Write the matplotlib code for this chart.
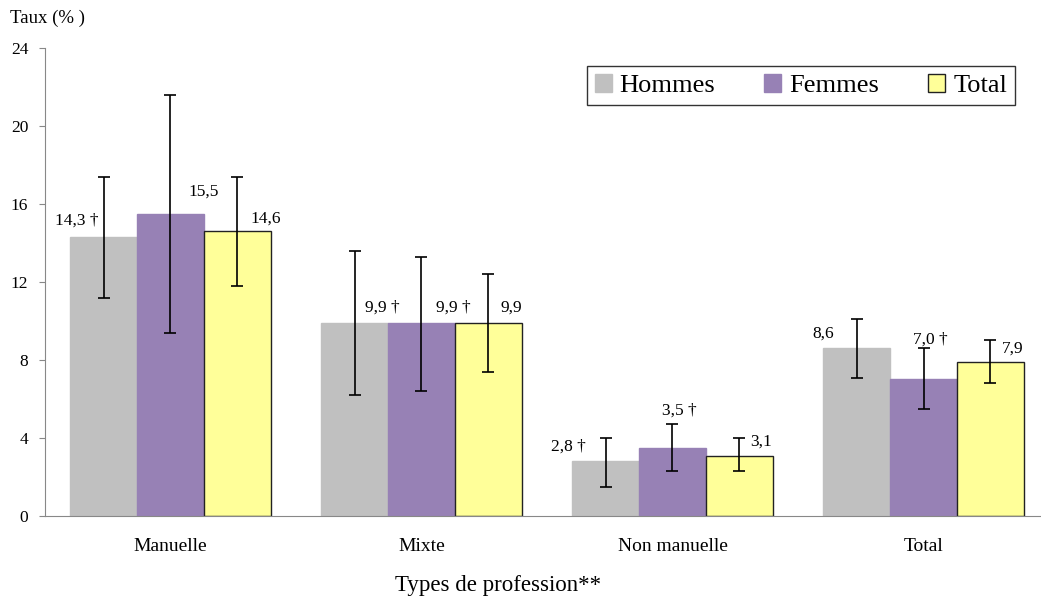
import numpy as np
import matplotlib.pyplot as plt

plt.rcParams['font.family'] = ['Liberation Serif', 'DejaVu Serif']

categories = ['Manuelle', 'Mixte', 'Non manuelle', 'Total']
series = ['Hommes', 'Femmes', 'Total']

hommes = [14.3, 9.9, 2.8, 8.6]
femmes = [15.5, 9.9, 3.5, 7.0]
total = [14.6, 9.9, 3.1, 7.9]

hommes_low = [11.2, 6.2, 1.5, 7.1]
hommes_high = [17.4, 13.6, 4.0, 10.1]
femmes_low = [9.4, 6.4, 2.3, 5.5]
femmes_high = [21.6, 13.3, 4.7, 8.6]
total_low = [11.8, 7.4, 2.3, 6.8]
total_high = [17.4, 12.4, 4.0, 9.0]

hommes_labels = ['14,3 †', '9,9 †', '2,8 †', '8,6']
femmes_labels = ['15,5', '9,9 †', '3,5 †', '7,0 †']
total_labels = ['14,6', '9,9', '3,1', '7,9']

colors = ['#c0c0c0', '#9781b5', '#ffff99']
edges = ['#c0c0c0', '#9781b5', '#222222']

# label offsets in pixels (dx, dy) from the bar top centre
offsets = [
    [(-27, 16), (28, 15), (-37, 15), (-33, 15)],
    [(33, 22), (32, 15), (7, 37), (7, 40)],
    [(28, 13), (23, 15), (22, 14), (22, 13)],
]


def plot_chart():
    fig = plt.figure(figsize=(10.41, 5.99), dpi=100)
    ax = fig.add_axes([0.0432, 0.1386, 0.9645, 0.7813])

    x = np.arange(len(categories))
    w = 0.8 / 3
    data = [hommes, femmes, total]
    lows = [hommes_low, femmes_low, total_low]
    highs = [hommes_high, femmes_high, total_high]
    labels = [hommes_labels, femmes_labels, total_labels]

    for i in range(3):
        xs = x + (i - 1) * w
        vals = np.array(data[i])
        err = [vals - np.array(lows[i]), np.array(highs[i]) - vals]
        ax.bar(xs, vals, w, color=colors[i], edgecolor=edges[i],
               linewidth=1.0, label=series[i], zorder=2)
        ax.errorbar(xs, vals, yerr=err, fmt='none', ecolor='black',
                    elinewidth=1.2, capsize=4, capthick=1.2, zorder=3)
        for j in range(len(categories)):
            dx, dy = offsets[i][j]
            ax.annotate(labels[i][j], (xs[j], vals[j]), xytext=(dx, dy),
                        textcoords='offset pixels', ha='center', va='center',
                        fontsize=12.5)

    ax.set_xlim(-0.5, 3.5)
    ax.set_ylim(0, 24)
    ax.set_yticks(range(0, 25, 4))
    ax.set_xticks(x)
    ax.set_xticklabels(categories, fontsize=14)
    ax.tick_params(axis='x', length=0, pad=16)
    ax.tick_params(axis='y', labelsize=12.5, color='#888888', length=4, pad=8)
    for s in ['top', 'right']:
        ax.spines[s].set_visible(False)
    ax.spines['left'].set_color('#888888')
    ax.spines['bottom'].set_color('#888888')

    fig.text(0.478, 1 - 585 / 599, 'Types de profession**', fontsize=16.5,
             ha='center', va='center')
    fig.text(0.0096, 1 - 18 / 599, 'Taux (% )', fontsize=13.5, va='center')

    leg = ax.legend(loc='upper right', bbox_to_anchor=(0.966, 0.9615), ncol=3,
                    fontsize=19, frameon=True, fancybox=False,
                    borderaxespad=0,
                    handlelength=0.65, handleheight=0.65, handletextpad=0.3,
                    columnspacing=1.85, borderpad=0.3)
    leg.get_frame().set_edgecolor('black')
    leg.get_frame().set_linewidth(1.0)

    fig.savefig('out.png', dpi=100)


def main():
    plot_chart()


if __name__ == "__main__":
    main()
